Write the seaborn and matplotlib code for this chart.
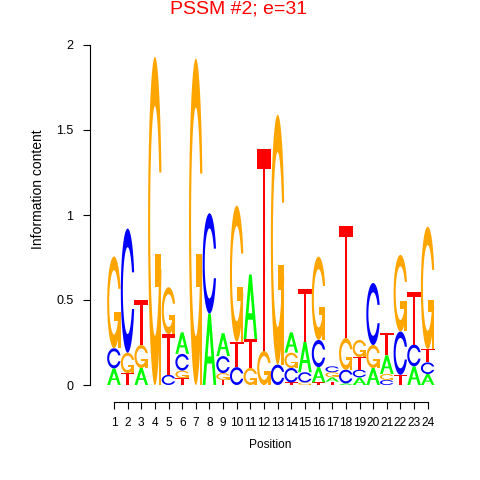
import numpy as np
import matplotlib
matplotlib.use("Agg")
import matplotlib.pyplot as plt
import seaborn as sns
from matplotlib.patches import Polygon

# information content per letter, one value per position
positions = list(range(1, 25))
A = [0.098, 0, 0.10, 0, 0, 0.127, 0, 0.42, 0.135, 0, 0.38, 0, 0, 0.12,
     0.18, 0.09, 0.025, 0.01, 0.045, 0.10, 0.11, 0, 0.11, 0.065]
C = [0.118, 0.73, 0, 0, 0.06, 0.098, 0, 0.59, 0.10, 0.105, 0, 0, 0.12, 0.085,
     0.06, 0.16, 0.035, 0.08, 0.045, 0.365, 0.03, 0.255, 0.128, 0.068]
G = [0.54, 0.12, 0.135, 1.93, 0.275, 0.045, 1.92, 0, 0.04, 0.80, 0.10, 0.20,
     1.47, 0.09, 0.015, 0.49, 0.03, 0.186, 0.10, 0.135, 0.035, 0.45, 0, 0.72]
T = [0, 0.07, 0.265, 0, 0.24, 0.04, 0, 0, 0.03, 0.15, 0.17, 1.19, 0, 0.015,
     0.31, 0.015, 0.02, 0.66, 0.075, 0, 0.13, 0.06, 0.31, 0.078]
yticks = [0, 0.5, 1, 1.5, 2]
ytick_labels = ["0", "0.5", "1", "1.5", "2"]
title = "PSSM #2; e=31"

colors = {"A": "#00FF00", "C": "#0000FF", "G": "#FFA500", "T": "#FF0000"}


# letter outlines in a unit box (same construction as seqLogo)
def ring():
    a1 = np.linspace(0.3 + np.pi / 2, np.pi, 100)
    a2 = np.linspace(np.pi, 1.5 * np.pi, 100)
    xl = np.concatenate([0.5 + 0.5 * np.sin(a1), 0.5 + 0.5 * np.sin(a2)])
    yl = np.concatenate([0.5 + 0.5 * np.cos(a1), 0.5 + 0.5 * np.cos(a2)])
    xo = np.concatenate([xl, xl[::-1]])
    yo = np.concatenate([yl, 1 - yl[::-1]])
    ymax = (0.5 + 0.5 * np.cos(a1)).max()
    xi1 = 0.5 + 0.35 * np.sin(a1)
    yi1 = 0.5 + 0.35 * np.cos(a1)
    keep = yi1 <= ymax
    xi1, yi1 = xi1[keep], yi1[keep]
    yi1[0] = ymax
    xi2 = 0.5 + 0.35 * np.sin(a2)
    yi2 = 0.5 + 0.35 * np.cos(a2)
    xi = np.concatenate([xi1, xi2])
    yi = np.concatenate([yi1, yi2])
    x1 = np.concatenate([xi, xi[::-1]])
    y1 = np.concatenate([yi, 1 - yi[::-1]])
    x = np.concatenate([xo, x1[::-1]])
    y = np.concatenate([yo, y1[::-1]])
    return np.column_stack([x, y])


def letter_parts(ch):
    if ch == "A":
        outer = np.array([[0, 0], [.4, 1], [.6, 1], [1, 0], [.8, 0], [.68, .3],
                          [.32, .3], [.2, 0], [0, 0]])
        inner = np.array([[.36, .4], [.5, .75], [.64, .4], [.36, .4]])
        return [(outer, colors["A"]), (inner, "white")]
    if ch == "T":
        pts = np.array([[0, 1], [1, 1], [1, .9], [.6, .9], [.6, 0], [.4, 0],
                        [.4, .9], [0, .9]])
        return [(pts, colors["T"])]
    if ch == "C":
        return [(ring(), colors["C"])]
    r1 = 0.5 + 0.5 * np.sin(0.3 + np.pi / 2)
    spur = np.array([[r1, .4], [.5, .4], [.5, .3], [r1 - .2, .3], [r1 - .2, 0],
                     [r1, 0], [r1, .4]])
    return [(ring(), colors["G"]), (spur, colors["G"])]


sns.set_theme(style="ticks")
plt.rcParams["font.family"] = ["Liberation Sans", "DejaVu Sans"]

fig = plt.figure(figsize=(4.8, 4.8), dpi=100)
ax = fig.add_axes([90 / 480, (480 - 401.7) / 480, 350 / 480, (401.7 - 40) / 480])

heights = {"A": A, "C": C, "G": G, "T": T}
for i, pos in enumerate(positions):
    col = sorted(heights, key=lambda k: heights[k][i])
    ybase = 0.0
    for ch in col:
        h = heights[ch][i]
        if h <= 0:
            continue
        for pts, fc in letter_parts(ch):
            xy = np.column_stack([pos - 0.5 + pts[:, 0], ybase + pts[:, 1] * h])
            ax.add_patch(Polygon(xy, closed=True, facecolor=fc, edgecolor="none",
                                 lw=0, zorder=3))
        ybase += h

ax.set_xlim(1 + (90 - 114) / 13.64, 1 + (440 - 114) / 13.64)
ax.set_ylim((385 - 401.7) / 170, (385 - 40) / 170)
ax.set_facecolor("white")

sns.despine(ax=ax)
ax.spines["left"].set_bounds(0, 2)
ax.spines["bottom"].set_bounds(1, 24)
for s in ["left", "bottom"]:
    ax.spines[s].set_linewidth(0.8)
    ax.spines[s].set_color("black")

ax.set_xticks(positions)
ax.set_xticklabels([str(p) for p in positions])
ax.set_yticks(yticks)
ax.set_yticklabels(ytick_labels)
ax.tick_params(axis="both", direction="out", length=5, width=0.8,
               color="black", labelcolor="black")
ax.tick_params(axis="x", labelsize=8.6, pad=6)
ax.tick_params(axis="y", labelsize=9, pad=7)

ax.set_xlabel("Position", fontsize=8.6, color="black")
ax.xaxis.set_label_coords((270 - 90) / 350, (401.7 - 445) / 361.7)
ax.xaxis.label.set_verticalalignment("center")
ax.set_ylabel("Information content", fontsize=10, color="black")
ax.yaxis.set_label_coords((38 - 90) / 350, (401.7 - 189) / 361.7)
ax.yaxis.label.set_verticalalignment("center")

fig.text(239 / 480, 1 - 9 / 480, title, color="red", fontsize=14,
         ha="center", va="center")

fig.savefig("out.png", dpi=100)
